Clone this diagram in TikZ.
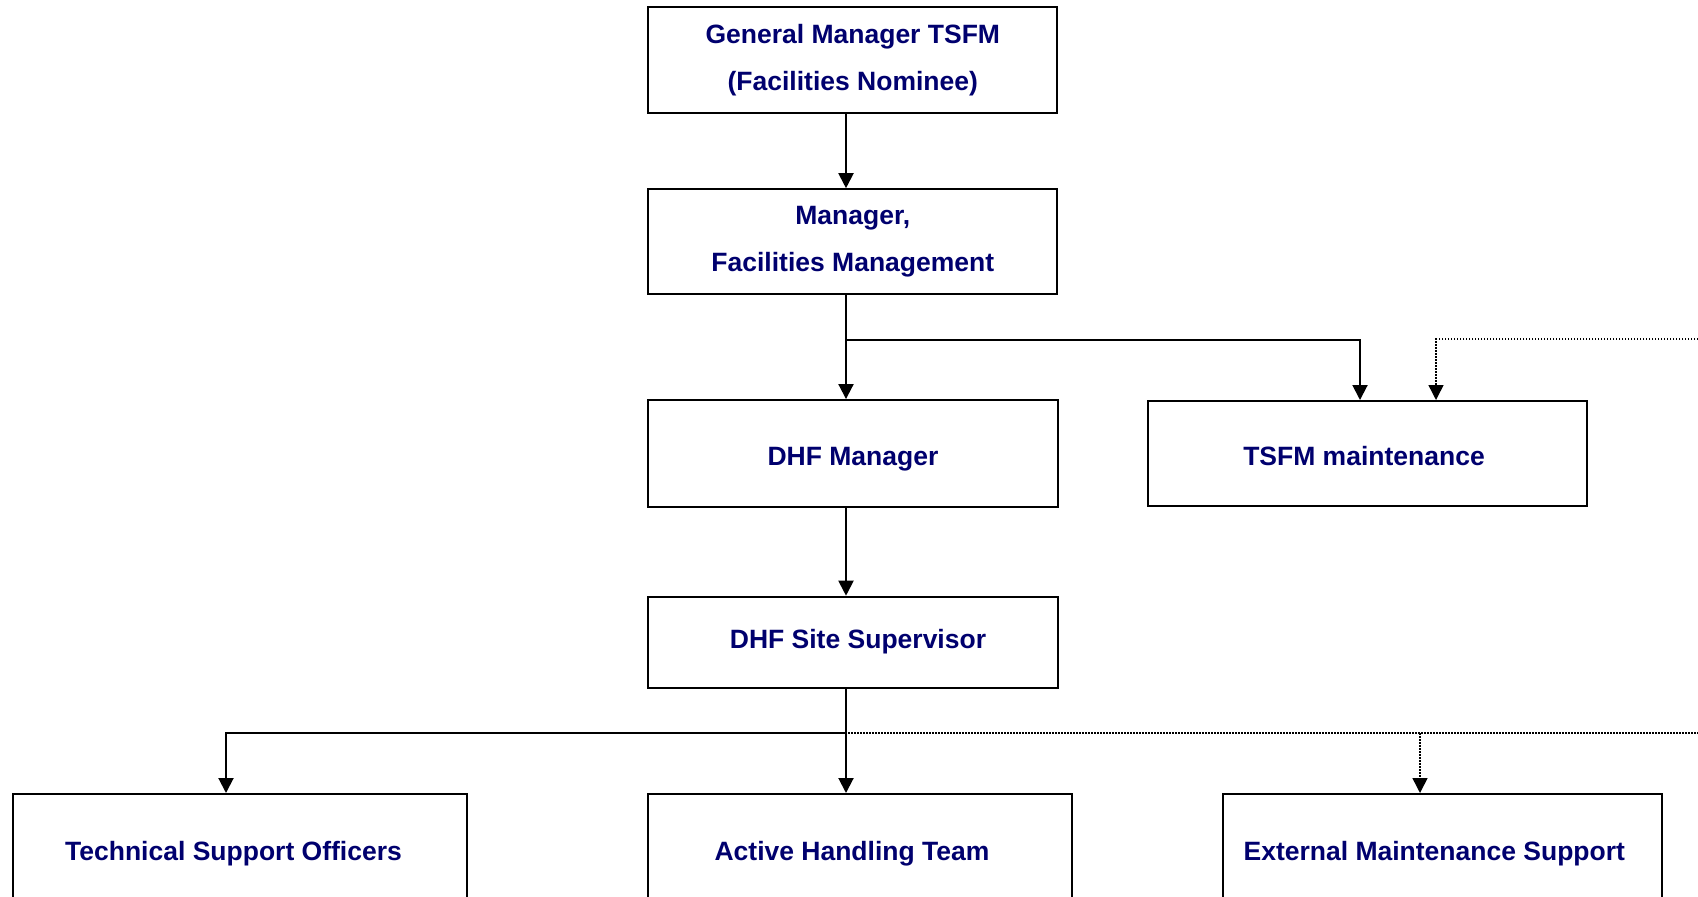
\documentclass[tikz,border=0pt]{standalone}
\usepackage{fontspec}
\setmainfont{Liberation Sans}
\usetikzlibrary{positioning}
\usetikzlibrary{arrows.meta}

\definecolor{orgnavy}{RGB}{0,0,110}
\tikzset{
	post/.style={draw,line width=2pt,inner sep=0pt,text=orgnavy,
		font=\fontsize{26.5}{47}\selectfont\bfseries},
	twoline/.style={align=center},
	oneline/.style={text height=19pt,text depth=0pt},
	conn/.style={line width=2pt,-{Triangle[width=15pt,length=15pt]}},
	dotconn/.style={line width=1.5pt,dash pattern=on 1.5pt off 1.5pt,-{Triangle[width=15pt,length=15pt]}},
	dotline/.style={line width=1.5pt,dash pattern=on 1.5pt off 1.5pt}
}

\begin{document}
\begin{tikzpicture}[x=1pt,y=-1pt]
	\useasboundingbox (0,0) rectangle (1698,897);						% page frame
	\clip (0,0) rectangle (1698,897);
	% posts
	\node[post,twoline,minimum width=409,minimum height=106] (gm) at (852.8,60.3)
		{General Manager TSFM\\(Facilities Nominee)};
	\node[post,twoline,minimum width=409,minimum height=105] (mgr) at (852.8,241.7)
		{Manager,\\Facilities Management};
	\node[post,oneline,text height=24.4pt,minimum width=410,minimum height=106.5] (dhf) at (853,453.3)
		{DHF Manager};
	\node[post,oneline,text height=24.4pt,minimum width=439,minimum height=105] (tsfm) at (1367.5,453.5)
		{TSFM maintenance\kern7pt};
	\node[post,oneline,text depth=7.4pt,minimum width=410,minimum height=91] (ss) at (853,642.2)
		{\kern10pt DHF Site Supervisor};
	\node[post,oneline,minimum width=454,minimum height=114] (tso) at (240,851)
		{Technical Support Officers\kern13pt};
	\node[post,oneline,minimum width=424,minimum height=114] (aht) at (860,851)
		{Active Handling Team\kern16pt};
	\node[post,oneline,minimum width=439,minimum height=114] (ems) at (1442.3,851)
		{External Maintenance Support\kern16pt};
	% branch points
	\coordinate (spine) at (846,0);									% main line
	\coordinate (split1) at (846,340);
	\coordinate (split2) at (846,733);
	\coordinate (tsfmx) at (1360,0);
	\coordinate (tsfmdx) at (1436,0);
	\coordinate (tsox) at (226,0);
	\coordinate (emsx) at (1420,0);
	\coordinate (offA) at (1710,339);								% beyond the right edge
	\coordinate (offB) at (1710,733);
	% solid links
	\draw[conn] (gm.south -| spine) -- (mgr.north -| spine);
	\draw[conn] (mgr.south -| spine) -- (dhf.north -| spine);
	\draw[conn] (split1) -| (tsfm.north -| tsfmx);
	\draw[conn] (dhf.south -| spine) -- (ss.north -| spine);
	\draw[conn] (ss.south -| spine) -- (aht.north -| spine);
	\draw[conn] (split2) -| (tso.north -| tsox);
	% dotted links
	\draw[dotconn] (offA) -| (tsfm.north -| tsfmdx);
	\draw[dotline] ([xshift=2pt]split2) -- (offB);
	\draw[dotconn] (split2 -| emsx) -- (ems.north -| emsx);
\end{tikzpicture}
\end{document}
